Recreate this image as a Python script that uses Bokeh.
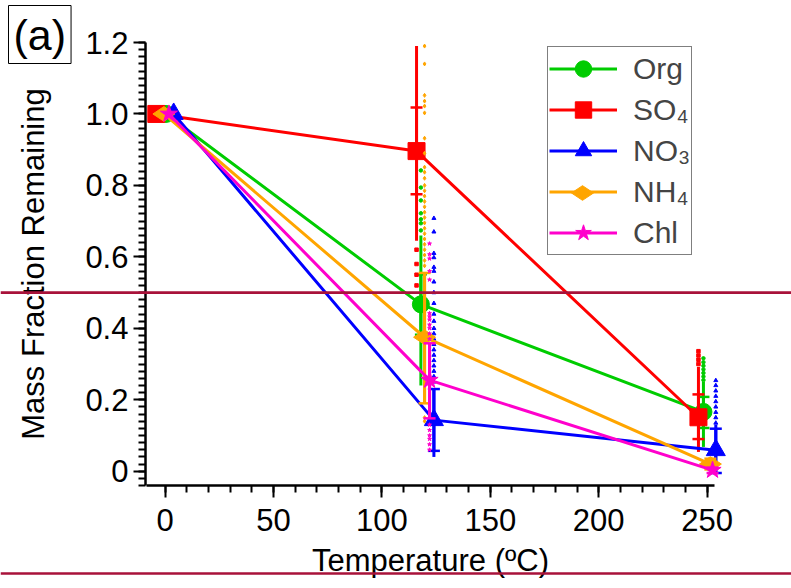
import math
from bokeh.plotting import figure
from bokeh.models import (Range1d, FixedTicker, CustomJSTickFormatter,
                          Legend, LegendItem, Label, Span)
from bokeh.embed import file_html
from bokeh.resources import INLINE

FONT = "Liberation Sans"

# ---------------- data ----------------
names = ["Org", "SO₄", "NO₃", "NH₄", "Chl"]
colors = ["#00cc00", "#ff0000", "#0000ff", "#ffa500", "#ff00cc"]
markers = ["circle", "square", "triangle", "diamond", "star"]

# temperatures (degC) and mass fraction remaining
org_T = [0.5, 118.0, 248.3]
org_mfr = [1.0, 0.467, 0.166]
so4_T = [-4.0, 116.0, 246.0]
so4_mfr = [1.0, 0.896, 0.151]
no3_T = [4.0, 124.0, 254.0]
no3_mfr = [1.0, 0.143, 0.059]
nh4_T = [-0.5, 119.7, 251.5]
nh4_mfr = [1.0, 0.375, 0.020]
chl_T = [1.8, 122.0, 252.5]
chl_mfr = [1.0, 0.255, 0.003]

# error bar caps (lower, upper) at the two heated temperatures
org_caps = [(0.382, 0.551), (0.121, 0.208)]
so4_caps = [(0.775, 1.018), (0.090, 0.215)]
no3_caps = [(0.057, 0.230), (-0.005, 0.119)]
nh4_caps = [(0.190, 0.555), (0.005, 0.035)]
chl_caps = [(0.148, 0.358), (-0.005, 0.010)]

# dense spread of individual points (lower, upper)
org_spread = [(0.24, 0.66), (0.068, 0.25)]
so4_spread = [(0.645, 1.19), (0.054, 0.292)]
no3_spread = [(0.04, 0.23), (-0.005, 0.13)]
nh4_spread = [(0.19, 0.555), (0.005, 0.035)]
chl_spread = [(0.148, 0.358), (-0.005, 0.010)]

# scattered individual points at ~120 C and ~250 C
org_pts = [[0.842, 0.794, 0.758, 0.722, 0.705, 0.694, 0.674],
           [0.316, 0.305, 0.295, 0.285, 0.275, 0.265, 0.255]]
so4_pts = [[0.62, 0.58, 0.55, 0.52],
           [0.336, 0.324, 0.312, 0.30]]
no3_pts = [[0.708, 0.67, 0.61, 0.598, 0.571, 0.56, 0.53, 0.50, 0.47, 0.44, 0.42,
            0.40, 0.385, 0.37, 0.355, 0.34, 0.325, 0.31, 0.295, 0.28, 0.265, 0.25],
           [0.254, 0.24, 0.225, 0.21, 0.195, 0.18, 0.165, 0.15, 0.135]]
nh4_pts = [[1.19, 1.14, 1.052, 1.036, 1.022, 1.003, 0.932, 0.89, 0.851, 0.837, 0.82,
            0.80, 0.785, 0.77, 0.755, 0.74, 0.725, 0.71, 0.695, 0.68, 0.665, 0.65,
            0.635, 0.62, 0.605, 0.59, 0.575, 0.15, 0.14],
           []]
chl_pts = [[0.637, 0.607, 0.595, 0.56, 0.536, 0.442, 0.433, 0.424, 0.41, 0.40,
            0.385, 0.37, 0.13, 0.115, 0.10, 0.09, 0.075, 0.06],
           []]

x_ticks = [0, 50, 100, 150, 200, 250]
x_minor = [v for v in range(0, 251, 10)]
y_ticks = [0.0, 0.2, 0.4, 0.6, 0.8, 1.0, 1.2]
y_minor = [round(i * 0.02, 2) for i in range(-2, 61)]
x_label = "Temperature (ºC)"
y_label = "Mass Fraction Remaining"
panel_label = "(a)"

series = [
    (org_T, org_mfr, org_caps, org_spread, org_pts),
    (so4_T, so4_mfr, so4_caps, so4_spread, so4_pts),
    (no3_T, no3_mfr, no3_caps, no3_spread, no3_pts),
    (nh4_T, nh4_mfr, nh4_caps, nh4_spread, nh4_pts),
    (chl_T, chl_mfr, chl_caps, chl_spread, chl_pts),
]

# ---------------- figure ----------------
# The plotting frame covers the whole canvas; the axes are drawn at fixed
# data locations so that everything (panel label, rules) can be placed freely.
W, H = 791, 588
PX_X = 2.1685      # pixels per degC
PX_Y = 357.26      # pixels per unit fraction
X0_PX = 164.5      # canvas x of T = 0
Y12_PX = 42.0      # canvas y of fraction = 1.2
x_start = -X0_PX / PX_X
x_end = (W - X0_PX) / PX_X
y_end = 1.2 + Y12_PX / PX_Y
y_start = 1.2 - (H - Y12_PX) / PX_Y


def cx(px):  # canvas x -> data x
    return (px - X0_PX) / PX_X


def cy(py):  # canvas y -> data y
    return 1.2 - (py - Y12_PX) / PX_Y


p = figure(width=W, height=H, output_backend="svg", toolbar_location=None,
           x_range=Range1d(x_start, x_end), y_range=Range1d(y_start, y_end),
           min_border_left=0, min_border_right=0, min_border_top=0,
           min_border_bottom=0)
p.outline_line_color = None
p.xgrid.visible = False
p.ygrid.visible = False
p.background_fill_color = "white"
p.border_fill_color = "white"

marker_sizes = {"circle": 17, "square": 17, "triangle": 19, "diamond": 22, "star": 18}
dot_sizes = {"circle": 3.5, "square": 3.5, "triangle": 4, "diamond": 4, "star": 4}

# legend geometry
LEG_LEFT, LEG_BOTTOM = 547, 255
LEG_PAD, LEG_GW, LEG_GH = 1, 68, 41
n_items = len(names)
leg_top = LEG_BOTTOM - (2 * LEG_PAD + n_items * LEG_GH)

items = []
for row, ((T, mfr, caps, spread, pts), name, col, mk) in enumerate(
        zip(series, names, colors, markers)):
    ln = p.line(T, mfr, line_color=col, line_width=3)
    for i in (0, 1):
        t = T[i + 1]
        lo, hi = spread[i]
        p.segment(x0=[t], y0=[lo], x1=[t], y1=[hi], line_color=col, line_width=3)
        clo, chi = caps[i]
        p.segment(x0=[t], y0=[clo], x1=[t], y1=[chi], line_color=col, line_width=3)
        p.scatter(x=[t, t], y=[clo, chi], marker="dash", size=12, line_color=col,
                  line_width=2.5)
        if pts[i]:
            p.scatter(x=[t] * len(pts[i]), y=pts[i], marker=mk, size=dot_sizes[mk],
                      color=col)
    if mk == "diamond":
        sc = p.scatter(T, mfr, marker=mk, size=marker_sizes[mk], fill_color=col,
                       line_color=col, angle=math.pi / 2)
        # flat diamond for the legend entry (legend glyphs ignore marker angle);
        # the legend background is transparent so it shows through
        p.scatter(x=[cx(LEG_LEFT + LEG_PAD + LEG_GW / 2)],
                  y=[cy(leg_top + LEG_PAD + LEG_GH * row + LEG_GH / 2)],
                  marker=mk, angle=math.pi / 2, size=marker_sizes[mk],
                  fill_color=col, line_color=col)
        items.append(LegendItem(label=name, renderers=[ln]))
    else:
        sc = p.scatter(T, mfr, marker=mk, size=marker_sizes[mk], fill_color=col,
                       line_color=col)
        items.append(LegendItem(label=name, renderers=[ln, sc]))

# axes
for ax in (p.xaxis[0], p.yaxis[0]):
    ax.axis_line_width = 2.5
    ax.axis_line_color = "black"
    ax.major_tick_in = 0
    ax.minor_tick_in = 0
    ax.major_tick_out = 12
    ax.minor_tick_out = 7
    ax.major_tick_line_width = 2
    ax.minor_tick_line_width = 2
    ax.major_label_text_font = FONT
    ax.major_label_text_font_size = "31px"
    ax.major_label_text_color = "black"
    ax.axis_label_text_font = FONT
    ax.axis_label_text_font_size = "31px"
    ax.axis_label_text_font_style = "normal"
    ax.axis_label_text_color = "black"

p.xaxis.ticker = FixedTicker(ticks=x_ticks, minor_ticks=x_minor)
p.yaxis.ticker = FixedTicker(ticks=y_ticks, minor_ticks=y_minor)
p.yaxis.formatter = CustomJSTickFormatter(
    code="return Math.abs(tick) < 1e-9 ? '0' : tick.toFixed(1);")
p.xaxis.bounds = (-8.5, 253.4)
p.yaxis.bounds = (-0.04, 1.2005)
p.xaxis.fixed_location = -0.04
p.yaxis.fixed_location = -9.0
p.xaxis.axis_label = x_label
p.yaxis.axis_label = y_label
p.xaxis.major_label_standoff = 11
p.yaxis.major_label_standoff = 5
p.xaxis.axis_label_standoff = 9
p.yaxis.axis_label_standoff = 31

legend = Legend(items=items, location=(LEG_LEFT, H - LEG_BOTTOM))
legend.border_line_color = "black"
legend.border_line_width = 1.5
legend.background_fill_alpha = 0
legend.padding = LEG_PAD
legend.spacing = 0
legend.margin = 0
legend.glyph_width = LEG_GW
legend.glyph_height = LEG_GH
legend.label_height = LEG_GH
legend.label_standoff = 16
legend.label_text_font = FONT
legend.label_text_font_size = "30px"
p.add_layout(legend)

# panel label "(a)" in a box at the top-left corner
lab = Label(x=cx(8), y=cy(5), text=panel_label,
            text_font=FONT, text_font_size="43px", text_color="black",
            text_align="left", text_baseline="top", border_line_color="black",
            border_line_width=1, padding=5, background_fill_color="white")
p.add_layout(lab)

# two dark horizontal rules across the whole picture
line_col = "#a8123a"
p.add_layout(Span(location=0.5, dimension="width", line_color=line_col,
                  line_width=2.7))
p.add_layout(Span(location=cy(573), dimension="width",
                  line_color=line_col, line_width=2.7))

open("out.html", "w").write(file_html(p, INLINE))
